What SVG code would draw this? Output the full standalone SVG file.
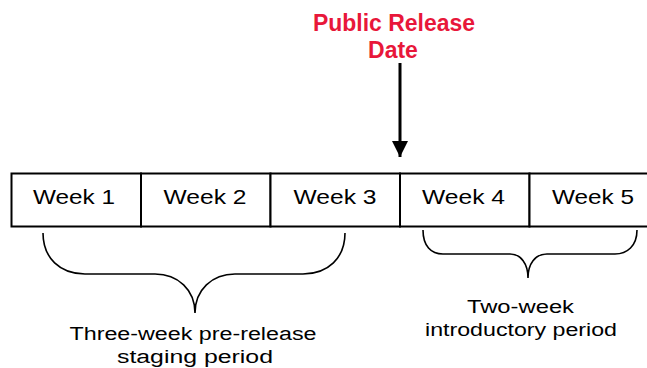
<svg xmlns="http://www.w3.org/2000/svg" width="647" height="368" viewBox="0 0 647 368">
<style>
.cell{fill:#fff;stroke:#000;stroke-width:2}
.wk{font-family:"Liberation Sans",Arial,sans-serif;font-size:21px;fill:#000;text-anchor:middle}
.lbl{font-family:"Liberation Sans",Arial,sans-serif;font-size:18px;fill:#000;text-anchor:middle}
.title{font-family:"Liberation Sans",Arial,sans-serif;font-size:23px;font-weight:bold;fill:#E8173A;text-anchor:middle}
.brace{fill:none;stroke:#000;stroke-width:1.6}
</style>
<defs>
<marker id="ah" viewBox="0 0 10 10" refX="10" refY="5" markerWidth="5.5" markerHeight="5.5" markerUnits="strokeWidth" orient="auto">
<path d="M0,0 L10,5 L0,10 Z" fill="#000"/>
</marker>
</defs>
<g id="title">
<text class="title" x="394" y="31" textLength="162" lengthAdjust="spacingAndGlyphs">Public Release</text>
<text class="title" x="393" y="58">Date</text>
</g>
<g id="week1"><rect class="cell" x="11.5" y="173.5" width="129.5" height="53"/><text class="wk" x="74" y="204" textLength="82" lengthAdjust="spacingAndGlyphs">Week 1</text></g>
<g id="week2"><rect class="cell" x="141" y="173.5" width="129.5" height="53"/><text class="wk" x="205" y="204" textLength="83" lengthAdjust="spacingAndGlyphs">Week 2</text></g>
<g id="week3"><rect class="cell" x="270.5" y="173.5" width="129.5" height="53"/><text class="wk" x="335" y="204" textLength="83" lengthAdjust="spacingAndGlyphs">Week 3</text></g>
<g id="week4"><rect class="cell" x="400" y="173.5" width="129.5" height="53"/><text class="wk" x="463.5" y="204" textLength="83" lengthAdjust="spacingAndGlyphs">Week 4</text></g>
<g id="week5"><rect class="cell" x="529.5" y="173.5" width="129.5" height="53"/><text class="wk" x="593" y="204" textLength="82" lengthAdjust="spacingAndGlyphs">Week 5</text></g>
<g id="staging">
<text class="lbl" x="193" y="340" textLength="247" lengthAdjust="spacingAndGlyphs">Three-week pre-release</text>
<text class="lbl" x="195" y="363" textLength="156" lengthAdjust="spacingAndGlyphs">staging period</text>
</g>
<g id="intro">
<text class="lbl" x="520.5" y="313" textLength="107" lengthAdjust="spacingAndGlyphs">Two-week</text>
<text class="lbl" x="521" y="336" textLength="192" lengthAdjust="spacingAndGlyphs">introductory period</text>
</g>
<g id="connectors">
<line x1="400" y1="63" x2="400" y2="157" stroke="#000" stroke-width="3" marker-end="url(#ah)"/>
<path class="brace" d="M43,233 C43,258 60,274 85,274 L155,274 C178,274 195,290 195,313 C195,290 212,274 235,274 L303,274 C328,274 345,258 345,233"/>
<path class="brace" d="M423,230 C423,246 431,254 443,254 L510,254 C521,254 528,264 528,278 C528,264 535,254 547,254 L615,254 C627,254 637,246 637,230"/>
</g>
</svg>
